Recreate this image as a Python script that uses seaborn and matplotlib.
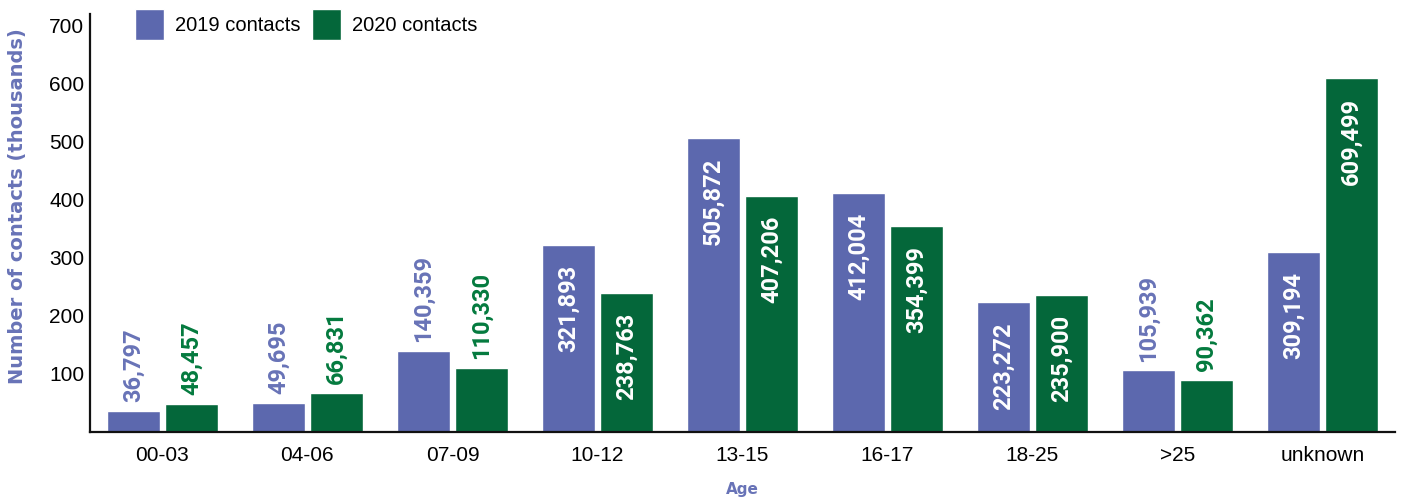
import numpy as np
import matplotlib
matplotlib.use("Agg")
import matplotlib.pyplot as plt
import seaborn as sns
import pandas as pd

# Datos
grupos_edad = ['00-03', '04-06', '07-09', '10-12', '13-15', '16-17', '18-25', '>25', 'unknown']
contactos_2019 = [36797, 49695, 140359, 321893, 505872, 412004, 223272, 105939, 309194]
contactos_2020 = [48457, 66831, 110330, 238763, 407206, 354399, 235900, 90362, 609499]
series = ['2019 contacts', '2020 contacts']

azul = '#5c68ae'
verde = '#04673a'
azul_texto = '#6873b7'
verde_texto = '#047a3e'

df = pd.DataFrame({
    'Age': grupos_edad * 2,
    'serie': [series[0]] * len(grupos_edad) + [series[1]] * len(grupos_edad),
    'valor': contactos_2019 + contactos_2020,
})
df['miles'] = df['valor'] / 1000

sns.set_style("white")
plt.rcParams['font.family'] = ['Liberation Sans', 'DejaVu Sans']

fig = plt.figure(figsize=(14.05, 4.97), dpi=100)
ax = fig.add_axes([0.064, 0.1308, 0.9289, 0.841])

sns.barplot(data=df, x='Age', y='miles', hue='serie', palette=[azul, verde],
            width=0.8, gap=0.09, ax=ax, saturation=1, legend=True)

ax.set_xlim(-0.5, len(grupos_edad) - 0.5)
ax.set_ylim(0, 720)
ax.set_yticks(range(100, 800, 100))

# Etiquetas de valores
fuente_num = ['Roboto', 'DejaVu Sans']
for cont, valores, color in zip(ax.containers, [contactos_2019, contactos_2020],
                                [azul_texto, verde_texto]):
    for barra, v in zip(cont, valores):
        xc = barra.get_x() + barra.get_width() / 2
        h = barra.get_height()
        txt = f'{v:,}'
        if v >= 200000:
            ax.text(xc, h - 34, txt, rotation=90, ha='center', va='top',
                    color='white', fontsize=17, fontweight='bold', family=fuente_num)
        else:
            ax.text(xc, h + 15, txt, rotation=90, ha='center', va='bottom',
                    color=color, fontsize=17, fontweight='bold', family=fuente_num)

# Ejes y ticks
for s in ['top', 'right']:
    ax.spines[s].set_visible(False)
for s in ['left', 'bottom']:
    ax.spines[s].set_linewidth(1.6)
    ax.spines[s].set_color('#111111')

ax.tick_params(axis='y', direction='in', length=21, width=1.5, color='#333333',
               labelsize=15, pad=4, labelcolor='black')
ax.tick_params(axis='x', which='major', length=0, labelsize=15, pad=10, labelcolor='black')
ax.set_xticks(np.arange(-0.5, len(grupos_edad)), minor=True)
ax.tick_params(axis='x', which='minor', direction='in', length=8, width=1.5, color='#222222')

ax.set_ylabel('Number of contacts (thousands)', color=azul_texto, fontsize=14,
              fontweight='bold', family=['DejaVu Sans'])
ax.yaxis.set_label_coords(-0.048, 0.54)
ax.set_xlabel('Age', color=azul_texto, fontsize=11, fontweight='bold',
              family=['DejaVu Sans'], labelpad=12)

leg = ax.legend(loc='upper left', bbox_to_anchor=(0.021, 1.056), ncol=2, frameon=False,
                fontsize=14.5, handlelength=1.4, handleheight=2.0, handletextpad=0.55,
                columnspacing=0.6, title=None)
for t in leg.get_texts():
    t.set_color('black')

fig.savefig('out.png', dpi=100)
